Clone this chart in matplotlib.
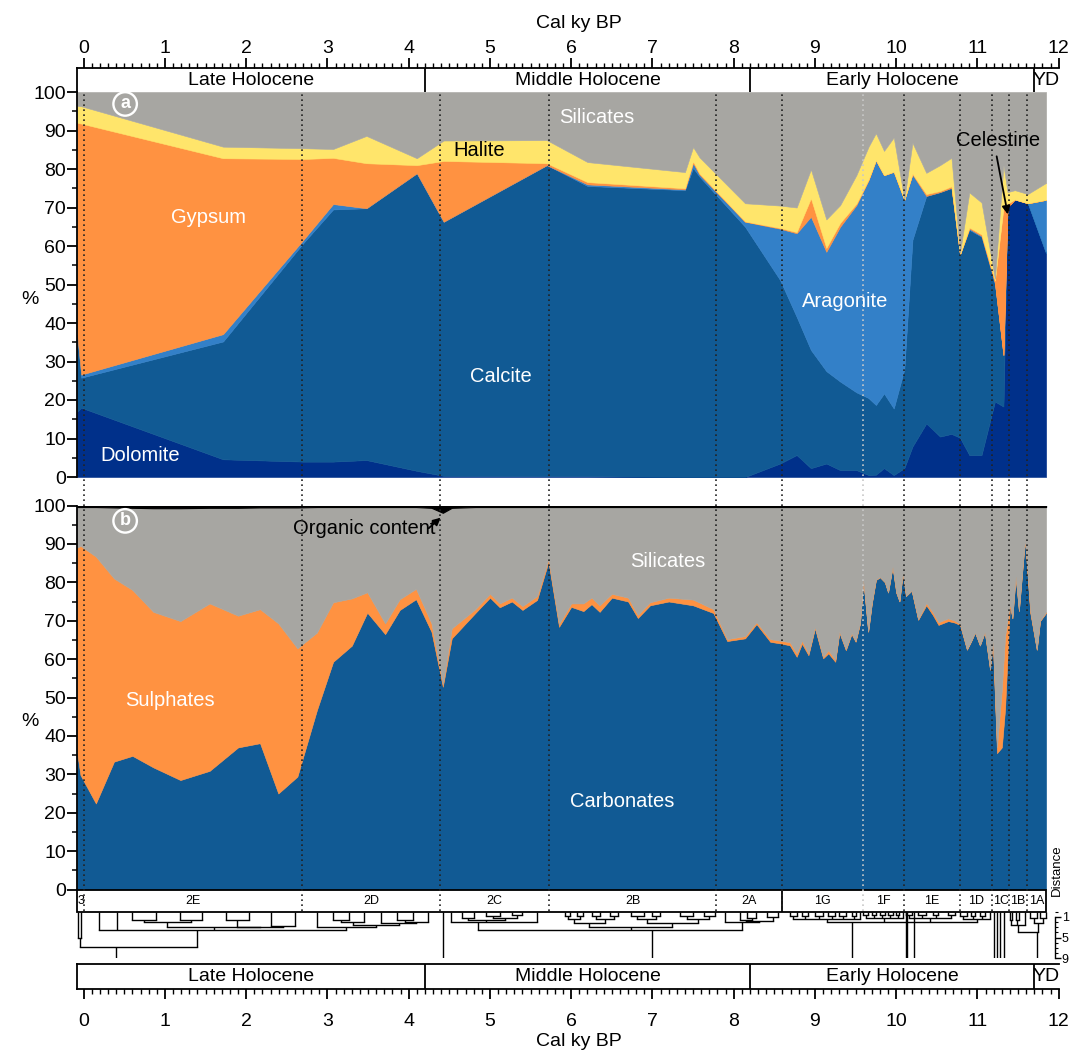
import numpy as np
import matplotlib.pyplot as plt
from matplotlib.ticker import MultipleLocator
from matplotlib.patches import Rectangle

plt.rcParams['font.family'] = ['Liberation Sans', 'DejaVu Sans']
plt.rcParams['font.size'] = 14

# ---- panel a: mineralogy (%) ----
age_a = [-0.08, -0.03, 1.715, 2.70, 3.07, 3.48, 4.10, 4.43, 5.70, 6.20,
         7.40, 7.50, 7.58, 8.14, 8.57, 8.775, 8.95, 9.14, 9.31, 9.51,
         9.66, 9.75, 9.85, 9.97, 10.10, 10.20, 10.37, 10.54, 10.68, 10.785,
         10.90, 11.05, 11.215, 11.32, 11.37, 11.46, 11.62, 11.845]
dolomite = [17.0, 18.0, 4.6, 4.0, 4.0, 4.4, 1.6, 0.3, 0.2, 0.2,
            0.0, 0.0, 0.0, 0.0, 3.5, 5.7, 2.3, 3.5, 1.8, 1.8,
            0.5, 0.6, 2.3, 0.5, 2.3, 7.9, 13.9, 10.5, 11.2, 10.2,
            5.7, 5.7, 19.6, 18.3, 70.0, 72.1, 71.1, 58.1]
calcite = [20.0, 7.8, 30.6, 56.7, 65.5, 65.4, 77.3, 66.0, 80.8, 75.4,
           74.5, 80.3, 78.0, 65.0, 47.7, 35.9, 30.7, 24.0, 23.0, 20.2,
           20.0, 18.1, 19.4, 17.3, 25.7, 53.7, 59.1, 63.5, 63.9, 47.6,
           58.5, 56.7, 30.4, 13.4, 0.0, 0.0, 0.0, 0.0]
aragonite = [0.0, 0.8, 1.9, 0.8, 1.4, 0.0, 0.0, 0.0, 0.0, 0.4,
             0.2, 1.2, 0.5, 1.3, 13.3, 21.7, 34.6, 31.0, 40.2, 48.6,
             56.6, 63.6, 56.7, 61.5, 44.0, 17.0, 0.0, 0.0, 0.0, 0.0,
             0.3, 0.2, 0.5, 0.0, 0.0, 0.0, 0.0, 13.9]
gypsum = [55.0, 65.2, 45.7, 21.1, 12.0, 11.7, 2.1, 15.8, 0.5, 0.6,
          0.3, 0.5, 0.3, 0.1, 0.2, 0.3, 4.8, 1.0, 1.0, 0.4,
          0.2, 0.0, 0.0, 0.0, 0.0, 0.2, 0.5, 0.3, 0.4, 0.0,
          0.3, 0.4, 0.0, 0.0, 0.0, 0.0, 0.0, 0.0]
celestine = [0.0, 0.0, 0.0, 0.0, 0.0, 0.0, 0.0, 0.0, 0.0, 0.0,
             0.0, 0.0, 0.0, 0.0, 0.0, 0.0, 0.0, 0.0, 0.0, 0.0,
             0.0, 0.0, 0.0, 0.0, 0.0, 0.0, 0.0, 0.0, 0.0, 0.0,
             0.0, 0.0, 0.5, 38.3, 1.0, 0.0, 0.0, 0.0]
halite = [4.4, 4.5, 3.0, 2.8, 2.3, 7.1, 1.8, 5.3, 6.0, 5.2,
          4.2, 3.7, 4.2, 4.7, 5.8, 6.4, 7.5, 7.4, 4.6, 7.4,
          8.5, 7.0, 6.3, 8.9, 0.1, 8.0, 5.5, 6.7, 7.4, 0.4,
          9.1, 8.3, 0.5, 11.0, 3.0, 2.4, 2.4, 4.4]

# ---- panel b: main components (%) ----
age_b = [-0.08, -0.04, 0.15, 0.373, 0.60, 0.857, 1.19, 1.55, 1.90, 2.17,
         2.395, 2.63, 2.87, 3.07, 3.30, 3.49, 3.71, 3.89, 4.09, 4.28,
         4.42, 4.53, 4.82, 5.00, 5.12, 5.27, 5.40, 5.58, 5.72, 5.85,
         6.00, 6.15, 6.25, 6.35, 6.50, 6.70, 6.82, 6.97, 7.20, 7.50,
         7.75, 7.92, 8.14, 8.28, 8.45, 8.57, 8.69, 8.775, 8.84, 8.92,
         9.00, 9.10, 9.165, 9.25, 9.30, 9.38, 9.45, 9.50, 9.555, 9.595,
         9.655, 9.70, 9.75, 9.80, 9.86, 9.90, 9.955, 10.00, 10.04, 10.08,
         10.12, 10.19, 10.27, 10.37, 10.45, 10.52, 10.64, 10.72, 10.785, 10.87,
         10.92, 10.97, 11.03, 11.09, 11.155, 11.19, 11.24, 11.30, 11.34, 11.40,
         11.43, 11.47, 11.51, 11.585, 11.65, 11.73, 11.77, 11.845]
carbonates = [35.5, 29.8, 22.4, 33.3, 34.8, 31.8, 28.5, 30.9, 37.0, 38.1,
              25.0, 29.4, 46.7, 59.3, 63.5, 72.1, 66.5, 72.8, 75.6, 67.1,
              52.8, 65.4, 72.0, 76.0, 73.5, 75.0, 72.8, 75.4, 85.3, 68.4,
              73.6, 72.5, 74.3, 72.3, 76.0, 75.0, 70.7, 74.0, 75.0, 74.0,
              72.0, 64.7, 65.4, 69.1, 64.5, 64.1, 63.6, 60.6, 64.0, 61.0,
              68.0, 60.2, 61.5, 59.3, 66.9, 62.3, 66.5, 64.5, 69.3, 80.6,
              67.1, 74.5, 80.6, 81.3, 80.0, 77.3, 84.0, 77.3, 75.0, 82.3,
              76.4, 77.8, 70.2, 74.0, 71.5, 68.9, 69.9, 69.5, 68.9, 62.4,
              64.5, 66.9, 63.5, 67.0, 57.2, 64.6, 35.5, 37.0, 47.0, 74.1,
              70.6, 81.5, 72.5, 91.2, 72.0, 62.4, 69.9, 72.0]
sulphates = [53.5, 59.7, 64.3, 47.7, 43.2, 40.5, 41.4, 43.6, 34.3, 34.9,
             44.3, 33.4, 20.2, 15.5, 12.3, 5.3, 2.8, 2.8, 2.7, 2.2,
             0.7, 2.6, 1.0, 1.0, 1.0, 1.0, 1.0, 1.0, 0.7, 0.8,
             0.9, 2.0, 1.7, 1.7, 1.0, 1.0, 0.8, 0.8, 1.0, 1.5,
             1.0, 0.5, 0.6, 0.5, 0.7, 0.7, 0.8, 0.9, 0.8, 0.5,
             0.4, 0.4, 0.8, 0.5, 0.3, 0.3, 0.3, 0.2, 0.2, 0.1,
             0.1, 0.1, 0.1, 0.1, 0.1, 0.1, 0.1, 0.1, 0.1, 0.1,
             0.1, 0.1, 0.2, 0.6, 0.7, 0.7, 0.7, 0.5, 0.3, 0.2,
             0.1, 0.1, 0.1, 0.1, 0.1, 0.1, 1.5, 15.0, 19.0, 0.3,
             0.1, 0.1, 0.1, 0.1, 0.5, 0.1, 0.1, 0.3]
organic = [0.4, 0.4, 0.4, 0.5, 0.6, 0.7, 0.7, 0.6, 0.6, 0.5,
           0.5, 0.5, 0.4, 0.4, 0.4, 0.4, 0.4, 0.4, 0.4, 0.6,
           1.9, 0.6, 0.4, 0.4, 0.4, 0.4, 0.4, 0.4, 0.4, 0.4,
           0.4, 0.4, 0.4, 0.4, 0.4, 0.4, 0.4, 0.4, 0.4, 0.4,
           0.4, 0.4, 0.4, 0.4, 0.4, 0.4, 0.4, 0.4, 0.4, 0.4,
           0.4, 0.4, 0.4, 0.4, 0.4, 0.4, 0.4, 0.4, 0.4, 0.4,
           0.4, 0.4, 0.4, 0.4, 0.4, 0.4, 0.4, 0.4, 0.4, 0.4,
           0.4, 0.4, 0.4, 0.4, 0.4, 0.4, 0.4, 0.4, 0.4, 0.4,
           0.4, 0.4, 0.4, 0.4, 0.4, 0.4, 0.4, 0.4, 0.4, 0.4,
           0.4, 0.4, 0.4, 0.4, 0.4, 0.4, 0.4, 0.4]

# ---- zones ----
period_edges = [-0.08, 4.2, 8.2, 11.7, 12.0]
period_names = ['Late Holocene', 'Middle Holocene', 'Early Holocene', 'YD']
clus_edges = [-0.08, 0.004, 2.69, 4.385, 5.73, 7.78, 8.59, 9.595, 10.09,
              10.78, 11.18, 11.39, 11.61, 11.845]
clus_names = ['3', '2E', '2D', '2C', '2B', '2A', '1G', '1F', '1E', '1D',
              '1C', '1B', '1A']

# ---- dendrogram, group 2 merges: (child x, child height, merge height) ----
dend2 = [
    ([-0.065, -0.03], [0, 0], 5.1),
    ([0.60, 0.89], [0, 0], 1.6), ([1.18, 1.46], [0, 0], 1.6),
    ([1.75, 2.03], [0, 0], 1.6), ([2.31, 2.60], [0, 0], 2.8),
    ([0.745, 1.32], [1.6, 1.6], 2.0), ([1.89, 2.455], [1.6, 2.8], 2.9),
    ([1.03, 2.17], [2.0, 2.9], 3.0),
    ([3.07, 3.27], [0, 0], 1.6), ([3.17, 3.45], [1.6, 0], 2.0),
    ([3.85, 4.05], [0, 0], 1.6), ([3.95, 4.24], [1.6, 0], 2.0),
    ([3.66, 4.095], [0, 2.0], 2.2), ([3.31, 3.88], [2.0, 2.2], 2.6),
    ([2.87, 3.595], [0, 2.6], 3.0),
    ([0.19, 0.41, 1.60, 3.23], [0, 0, 3.0, 3.0], 3.56),
    ([-0.0475, 1.39], [5.1, 3.56], 6.77),
    ([0.40], [6.77], 9.0),
    ([4.65, 4.80], [0, 0], 1.2), ([4.95, 5.12], [0, 0], 0.9),
    ([5.27, 5.40], [0, 0], 0.7), ([5.035, 5.335], [0.9, 0.7], 1.3),
    ([4.725, 5.185], [1.2, 1.3], 1.7), ([4.52, 4.955, 5.58], [0, 1.7, 0], 2.0),
    ([5.92, 5.99], [0, 0], 0.9), ([6.07, 6.15], [0, 0], 0.9),
    ([6.25, 6.36], [0, 0], 0.9), ([6.48, 6.58], [0, 0], 0.9),
    ([6.74, 6.89], [0, 0], 0.9), ([6.99, 7.09], [0, 0], 0.9),
    ([7.34, 7.50], [0, 0], 0.9), ([7.63, 7.77], [0, 0], 0.9),
    ([5.955, 6.11], [0.9, 0.9], 1.5), ([6.305, 6.53], [0.9, 0.9], 1.5),
    ([6.815, 7.04], [0.9, 0.9], 1.5), ([7.42, 7.70], [0.9, 0.9], 1.5),
    ([6.0325, 6.4175], [1.5, 1.5], 2.2), ([6.9275, 7.56], [1.5, 1.5], 2.2),
    ([6.225, 7.24], [2.2, 2.2], 2.9),
    ([8.16, 8.28], [0, 0], 1.2), ([8.08, 8.22], [0, 1.2], 1.6),
    ([8.41, 8.55], [0, 0], 1.0), ([8.15, 8.48], [1.6, 1.0], 1.9),
    ([7.89, 8.315], [0, 1.9], 2.0),
    ([4.85, 6.73, 8.10], [2.0, 2.9, 2.0], 3.56),
    ([6.99], [3.56], 9.0),
]
# group 1 sub-clusters: range, pair height, top height
g1_ranges = [(8.59, 9.595), (9.595, 10.09), (10.09, 10.78), (10.78, 11.18),
             (11.39, 11.61), (11.61, 11.85)]
g1_pair_h = [0.8, 0.7, 0.7, 0.8, 1.6, 1.3]
g1_top_h = [1.4, 1.3, 1.2, 1.4, 2.6, 2.3]
outliers = [4.42, 10.115, 10.135, 10.225, 11.20, 11.24, 11.28, 11.33]

C_SIL = '#a7a6a2'
C_HAL = '#ffe56b'
C_ORG = '#ff9241'
C_ARA = '#3380c8'
C_CAL = '#115a94'
C_DOL = '#00308a'

W, H = 1072, 1051
XMIN, XMAX = -0.08, 12.0
fig = plt.figure(figsize=(W / 100, H / 100), dpi=100)


def rect(top, bottom):
    return [77.2 / W, 1 - bottom / H, (1058.7 - 77.2) / W, (bottom - top) / H]


ax_top = fig.add_axes(rect(67.7, 92))
ax_a = fig.add_axes(rect(92, 477))
ax_b = fig.add_axes(rect(505.5, 889.5))
ax_cl = fig.add_axes(rect(890, 911.5))
ax_dn = fig.add_axes(rect(911.5, 958.3))
ax_bot = fig.add_axes(rect(963.5, 988.5))

for ax in [ax_top, ax_a, ax_b, ax_cl, ax_dn, ax_bot]:
    ax.set_xlim(XMIN, XMAX)
    ax.set_facecolor('none')
    for s in ax.spines.values():
        s.set_visible(False)
        s.set_linewidth(1.3)


def stack(ax, x, layers, colors):
    base = np.zeros(len(x))
    for vals, c in zip(layers, colors):
        t = base + np.asarray(vals)
        ax.fill_between(x, base, t, facecolor=c, edgecolor=c, lw=0.4)
        base = t
    return base


# panel a
base = stack(ax_a, age_a, [dolomite, calcite, aragonite, gypsum, celestine, halite],
             [C_DOL, C_CAL, C_ARA, C_ORG, C_ORG, C_HAL])
ax_a.fill_between(age_a, base, 100, facecolor=C_SIL, edgecolor=C_SIL, lw=0.4)

# panel b
base = stack(ax_b, age_b, [carbonates, sulphates], [C_CAL, C_ORG])
org_base = 100 - np.asarray(organic)
ax_b.fill_between(age_b, base, org_base, facecolor=C_SIL, edgecolor=C_SIL, lw=0.4)
ax_b.fill_between(age_b, org_base, 100, facecolor='black', edgecolor='black', lw=0.8)

for ax in [ax_a, ax_b]:
    ax.set_ylim(0, 100)
    ax.spines['left'].set_visible(True)
    ax.set_xticks([])
    ax.yaxis.set_major_locator(MultipleLocator(10))
    ax.yaxis.set_minor_locator(MultipleLocator(5))
    ax.tick_params(axis='y', which='major', length=7, width=1.3, labelsize=14, pad=1)
    ax.tick_params(axis='y', which='minor', length=3.5, width=1.1)

fig.text(30 / W, 1 - 300 / H, '%', ha='center', va='center', fontsize=14)
fig.text(30 / W, 1 - 722 / H, '%', ha='center', va='center', fontsize=14)

# labels panel a
lab = dict(ha='center', va='center', fontsize=14.5)
ax_a.text(6.31, 93.5, 'Silicates', color='white', **lab)
ax_a.text(4.87, 84.9, 'Halite', color='black', **lab)
ax_a.text(1.53, 67.3, 'Gypsum', color='white', **lab)
ax_a.text(5.14, 26, 'Calcite', color='white', **lab)
ax_a.text(0.69, 5.5, 'Dolomite', color='white', **lab)
ax_a.text(9.37, 45.7, 'Aragonite', color='white', **lab)
ax_a.text(11.25, 87.3, 'Celestine', color='black', **lab)
ax_a.annotate('', xy=(11.38, 67.5), xytext=(11.23, 84.0),
              arrowprops=dict(arrowstyle='-|>', color='black', lw=1.3, mutation_scale=12))
# labels panel b
ax_b.text(7.19, 85.3, 'Silicates', color='white', **lab)
ax_b.text(3.45, 94.1, 'Organic content', color='black', **lab)
ax_b.text(1.06, 49.1, 'Sulphates', color='white', **lab)
ax_b.text(6.63, 22.8, 'Carbonates', color='white', **lab)
ax_b.annotate('', xy=(4.42, 97.3), xytext=(4.22, 93.6),
              arrowprops=dict(arrowstyle='-|>', color='black', lw=1.3, mutation_scale=11))

for ax, letter, yy in [(ax_a, 'a', 96.9), (ax_b, 'b', 96.0)]:
    ax.text(0.51, yy, letter, color='white', fontsize=13, fontweight='bold',
            ha='center', va='center',
            bbox=dict(boxstyle='circle,pad=0.18', fc='none', ec='white', lw=1.7))

# dotted zone lines through both panels down to the cluster row
ax_a.set_zorder(10)
frac = -(911.5 - 477) / 385.0
for e in clus_edges[1:-1]:
    col = '#c8c8c8' if abs(e - 9.595) < 1e-6 else '#222222'
    ax_a.axvline(e, ymin=frac, ymax=1, ls=(0, (1, 2)), lw=1.2, color=col, clip_on=False)

# period boxes
for ax, where in [(ax_top, 'top'), (ax_bot, 'bottom')]:
    ax.set_ylim(0, 1)
    ax.spines['left'].set_visible(True)
    ax.spines[where].set_visible(True)
    if where == 'bottom':
        ax.spines['top'].set_visible(True)
        ax.xaxis.tick_bottom()
        pad = 11
    else:
        ax.xaxis.tick_top()
        pad = 0.5
    ax.set_yticks([])
    ax.xaxis.set_major_locator(MultipleLocator(1))
    ax.xaxis.set_minor_locator(MultipleLocator(0.1))
    ax.tick_params(axis='x', which='major', length=7, width=1.3, labelsize=14, pad=pad)
    ax.tick_params(axis='x', which='minor', length=3.5, width=1.0)
    for e in period_edges[1:-1]:
        ax.axvline(e, color='black', lw=1.3)
    for name, a, b in zip(period_names, period_edges[:-1], period_edges[1:]):
        ax.text((a + b) / 2, 0.48, name, ha='center', va='center', fontsize=14)
    ax.set_xticks(range(0, 13))

fig.text(579 / W, 1 - 23 / H, 'Cal ky BP', ha='center', va='center', fontsize=14)
fig.text(579 / W, 1 - 1041.5 / H, 'Cal ky BP', ha='center', va='center', fontsize=14)

# cluster row
ax_cl.set_ylim(0, 1)
ax_cl.set_xticks([]); ax_cl.set_yticks([])
ax_cl.add_patch(Rectangle((clus_edges[0], 0), clus_edges[-1] - clus_edges[0], 1,
                          fc='none', ec='black', lw=1.3, clip_on=False))
ax_cl.axvline(8.59, color='black', lw=1.3)
for name, a, b in zip(clus_names, clus_edges[:-1], clus_edges[1:]):
    ax_cl.text((a + b) / 2, 0.5, name, ha='center', va='center', fontsize=9)

# dendrogram
ax_dn.set_ylim(9, 0)
ax_dn.set_xticks([])


def merge(xs, hs, h):
    for x, h0 in zip(xs, hs):
        ax_dn.plot([x, x], [h0, h], color='black', lw=1.0, solid_capstyle='butt')
    if len(xs) > 1:
        ax_dn.plot([min(xs), max(xs)], [h, h], color='black', lw=1.0)


for xs, hs, h in dend2:
    merge(xs, hs, h)


def comb(leaves, h_pair, h_top):
    nodes, hs = [], []
    for i in range(0, len(leaves) - 1, 2):
        pair = leaves[i:i + 2]
        merge(pair, [0, 0], h_pair)
        nodes.append(sum(pair) / 2)
        hs.append(h_pair)
    if len(leaves) % 2:
        nodes.append(leaves[-1])
        hs.append(0)
    merge(nodes, hs, h_top)
    return (nodes[0] + nodes[-1]) / 2


g1_nodes = []
for (lo, hi), hp, ht in zip(g1_ranges, g1_pair_h, g1_top_h):
    leaves = [t for t in age_b if lo <= t < hi]
    g1_nodes.append(comb(leaves, hp, ht))
merge(g1_nodes[:4], g1_top_h[:4], 1.96)
merge([9.45], [1.96], 9.0)
merge(g1_nodes[4:], g1_top_h[4:], 3.88)
merge([11.73], [3.88], 9.0)
for x in outliers:
    merge([x], [0], 9.0)

ax_dn.spines['right'].set_visible(True)
ax_dn.spines['right'].set_linewidth(1.0)
ax_dn.spines['right'].set_position(('data', 11.95))
ax_dn.spines['right'].set_bounds(1, 9)
ax_dn.yaxis.tick_right()
ax_dn.set_yticks([1, 5, 9])
ax_dn.yaxis.set_minor_locator(MultipleLocator(1))
ax_dn.tick_params(axis='y', which='major', length=4, width=1.0, labelsize=9, pad=1)
ax_dn.tick_params(axis='y', which='minor', length=2, width=0.8)
fig.text(1057 / W, 1 - 870 / H, 'Distance', rotation=90, ha='center', va='center', fontsize=9.5)

fig.savefig('out.png', dpi=100)
